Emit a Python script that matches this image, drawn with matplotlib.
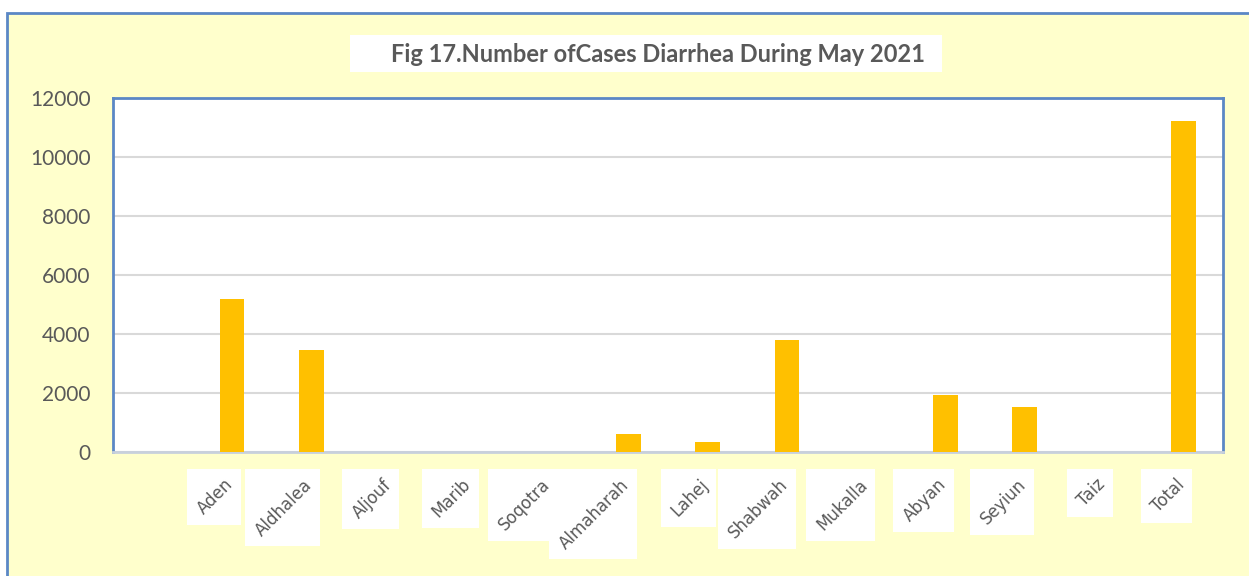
import matplotlib
matplotlib.use('Agg')
import matplotlib.pyplot as plt
import matplotlib.transforms as mtransforms
from matplotlib.patches import Rectangle

# data
regions = ['Aden', 'Aldhalea', 'Aljouf', 'Marib', 'Soqotra', 'Almaharah', 'Lahej',
           'Shabwah', 'Mukalla', 'Abyan', 'Seyiun', 'Taiz', 'Total']
cases = [5180, 3450, 0, 0, 0, 600, 350, 3780, 0, 1930, 1520, 0, 11220]
yticks = [0, 2000, 4000, 6000, 8000, 10000, 12000]
title = 'Fig 17.Number ofCases Diarrhea During May 2021'

W, H = 1249, 576
fig = plt.figure(figsize=(W / 100, H / 100), dpi=100, facecolor='white')

# yellow chart background with blue border (right/bottom edges off the picture)
fig.add_artist(Rectangle((7 / W, -0.1), 1.2, (H - 13) / H + 0.1, transform=fig.transFigure,
                         facecolor='#FFFFCC', edgecolor='#5B87C5', linewidth=2, zorder=-10))

ax = fig.add_axes([113 / W, 1 - 452 / H, (1223 - 113) / W, (452 - 98) / H])
ax.set_facecolor('white')

x = list(range(len(regions)))
ax.bar(x, cases, width=0.31, color='#FFC000', zorder=3)

ax.set_xlim(-1.5, len(regions) - 0.5)
ax.set_ylim(0, 12000)
ax.set_yticks(yticks)
ax.set_yticklabels([str(t) for t in yticks], fontfamily='Lato', fontsize=15, color='#595959')
ax.yaxis.grid(True, color='#D9D9D9', linewidth=1.5, zorder=0)
ax.tick_params(axis='y', length=0, pad=16)

ax.set_xticks(x)
ax.set_xticklabels(regions, rotation=45, ha='right', rotation_mode='anchor',
                   fontfamily='DejaVu Sans', fontsize=12, color='#595959')
ax.tick_params(axis='x', length=0, pad=17)
shift = mtransforms.ScaledTranslation(-8 / 100, 0, fig.dpi_scale_trans)
for lab in ax.get_xticklabels():
    lab.set_transform(lab.get_transform() + shift)

for side in ['left', 'top', 'right']:
    ax.spines[side].set_color('#5B87C5')
    ax.spines[side].set_linewidth(2)
ax.spines['bottom'].set_color('#C8D0DC')
ax.spines['bottom'].set_linewidth(2)

# title in a white box
fig.add_artist(Rectangle((350 / W, 1 - 72 / H), (942 - 350) / W, 37 / H,
                         transform=fig.transFigure, facecolor='white', edgecolor='none', zorder=-5))
fig.text(658 / W, 1 - 55 / H, title, ha='center', va='center', fontfamily='Lato',
         fontweight='bold', fontsize=17, color='#595959')

# white boxes behind the rotated category labels
fig.canvas.draw()
renderer = fig.canvas.get_renderer()
inv = fig.transFigure.inverted()
for lab in ax.get_xticklabels():
    bb = lab.get_window_extent(renderer)
    x0, y0 = inv.transform((bb.x0 - 7, bb.y0 - 7))
    x1, y1 = inv.transform((bb.x1 + 4, bb.y1 + 7))
    fig.add_artist(Rectangle((x0, y0), x1 - x0, y1 - y0, transform=fig.transFigure,
                             facecolor='white', edgecolor='none', zorder=-5))

fig.savefig('out.png', dpi=100, facecolor=fig.get_facecolor())
